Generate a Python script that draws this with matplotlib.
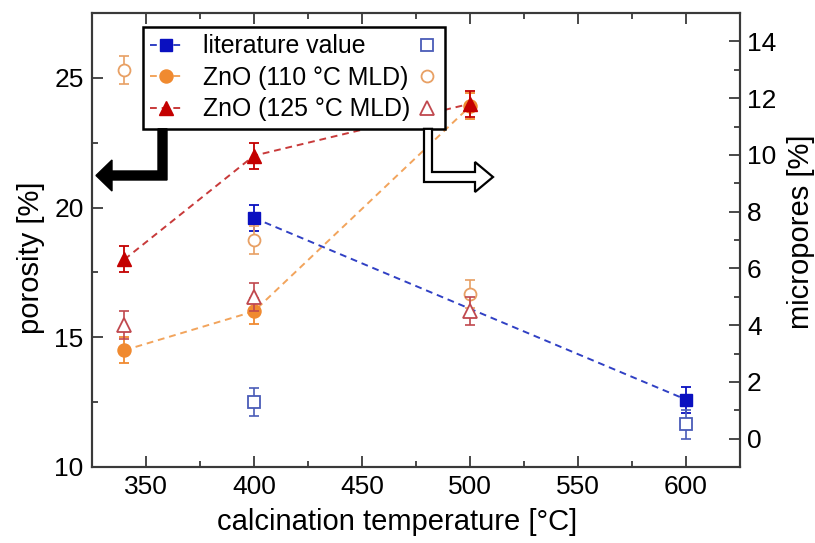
import matplotlib
matplotlib.use('Agg')
import matplotlib.pyplot as plt
from matplotlib.lines import Line2D
from matplotlib.patches import Polygon, Rectangle
from matplotlib.ticker import MultipleLocator

plt.rcParams['font.family'] = ['Liberation Sans', 'DejaVu Sans']

# ---------------- data ----------------
temps_lit = [400, 600]
poro_lit = [19.6, 12.6]
micro_lit = [1.3, 0.5]

temps_zno = [340, 400, 500]
poro_110 = [14.5, 16.0, 23.9]
micro_110 = [13.0, 7.0, 5.1]
poro_125 = [18.0, 22.0, 24.0]
micro_125 = [4.0, 5.0, 4.5]

err_poro = 0.5
err_micro = 0.5

labels = ['literature value', 'ZnO (110 °C MLD)', 'ZnO (125 °C MLD)']
x_ticks = [350, 400, 450, 500, 550, 600]
yl_ticks = [10, 15, 20, 25]
yr_ticks = [0, 2, 4, 6, 8, 10, 12, 14]

# ---------------- styles ----------------
fill_c = ['#0a10c0', '#f08a30', '#c40000']
line_c = ['#3040c4', '#f2a45c', '#c83a3a']
open_c = ['#4a5cb8', '#e8a064', '#c0484e']
markers = ['s', 'o', '^']
ms_fill = [8.6, 9.4, 10.0]
ms_open = [8.0, 8.6, 9.4]
dash = (3.5, 2.5)

W, H = 815, 543
fig = plt.figure(figsize=(W / 100, H / 100), dpi=100)
ax = fig.add_axes([92 / W, 1 - 467 / H, 648 / W, 454 / H])
ax2 = ax.twinx()

series_fill = [(temps_lit, poro_lit), (temps_zno, poro_110), (temps_zno, poro_125)]
series_open = [(temps_lit, micro_lit), (temps_zno, micro_110), (temps_zno, micro_125)]
zs = [3, 2, 4]

for i, (xs, ys) in enumerate(series_fill):
    ax.errorbar(xs, ys, yerr=err_poro, fmt='none', ecolor=fill_c[i], elinewidth=1.3,
                capsize=3.6, capthick=1.3, zorder=zs[i])
    ax.plot(xs, ys, ls=(0, dash), color=line_c[i], lw=1.4, zorder=zs[i])
    ax.plot(xs, ys, ls='none', marker=markers[i], ms=ms_fill[i], mfc=fill_c[i],
            mec=fill_c[i], zorder=zs[i] + 0.5)

for i, (xs, ys) in enumerate(series_open):
    ax2.errorbar(xs, ys, yerr=err_micro, fmt='none', ecolor=open_c[i], elinewidth=1.2,
                 capsize=3.6, capthick=1.2, zorder=2 + i)
    ax2.plot(xs, ys, ls='none', marker=markers[i], ms=ms_open[i], mfc='white',
             mec=open_c[i], mew=1.3, zorder=2.5 + i)

ax.set_xlim(325, 625)
ax.set_ylim(10, 27.5)
ax2.set_ylim(-1, 15)
ax.set_xticks(x_ticks)
ax.set_yticks(yl_ticks)
ax2.set_yticks(yr_ticks)
ax.xaxis.set_minor_locator(MultipleLocator(25))
ax.yaxis.set_minor_locator(MultipleLocator(2.5))
ax2.yaxis.set_minor_locator(MultipleLocator(1))

spc = '#3a3a3a'
for a in (ax, ax2):
    for s in a.spines.values():
        s.set_color(spc)
        s.set_linewidth(1.5)
ax.tick_params(which='both', direction='in', top=True, right=False, color=spc, width=1.3)
ax.tick_params(which='major', length=8, labelsize=19, pad=6)
ax.tick_params(which='minor', length=4)
ax2.tick_params(which='both', direction='in', color=spc, width=1.3)
ax2.tick_params(which='major', length=8, labelsize=19, pad=5)
ax2.tick_params(which='minor', length=4)

ax.set_xlabel('calcination temperature [°C]', fontsize=21, ha='center', va='center')
ax.xaxis.set_label_coords(0.471, (467 - 522) / 454)
ax.set_ylabel('porosity [%]', fontsize=21, ha='center', va='center')
ax.yaxis.set_label_coords((31 - 92) / 648, (467 - 258) / 454)
ax2.set_ylabel('micropores [%]', fontsize=21, ha='center', va='center')
ax2.yaxis.set_label_coords((801 - 92) / 648, (467 - 232) / 454)

# ---------------- legend ----------------
handles = [Line2D([], [], ls=(0, dash), lw=1.4, color=line_c[i], marker=markers[i],
                  ms=ms_fill[i], mfc=fill_c[i], mec=fill_c[i]) for i in range(3)]
leg = ax2.legend(handles=handles, labels=labels, loc='upper left',
                 bbox_to_anchor=((143 - 92) / 648, (467 - 27) / 454), borderaxespad=0,
                 frameon=False, fontsize=17.9, handlelength=1.25, handletextpad=0.85,
                 borderpad=0.3, labelspacing=0.3)
leg.set_zorder(10)

fig.canvas.draw()
r = fig.canvas.get_renderer()

lbb = leg.get_window_extent(r)
texts = leg.get_texts()
x_text_end = max(t.get_window_extent(r).x1 for t in texts)
mx = x_text_end + 17
lh = leg.legend_handles
for i, h in enumerate(lh):
    xy = h.get_transform().transform(h.get_xydata())
    ymk = xy[:, 1].mean()
    m = Line2D([mx / W], [ymk / H], transform=fig.transFigure, ls='none',
               marker=markers[i], ms=ms_open[i], mfc='white', mec=open_c[i], mew=1.3,
               zorder=11, clip_on=False)
    ax2.add_artist(m)

fx0, fy0, fx1, fy1 = lbb.x0, lbb.y0, mx + 18, lbb.y1
frame = Rectangle((fx0 / W, fy0 / H), (fx1 - fx0) / W, (fy1 - fy0) / H,
                  transform=fig.transFigure, facecolor='white', edgecolor='black',
                  lw=1.8, zorder=9, clip_on=False)
ax2.add_artist(frame)

# arrows (pixel coords, top-left origin), starting at legend bottom
yb = H - fy0


def poly(pts, **kw):
    p = Polygon([(x / W, 1 - y / H) for x, y in pts], closed=True,
                transform=fig.transFigure, clip_on=False, **kw)
    ax2.add_artist(p)


poly([(158, yb), (167, yb), (167, 180), (112, 180), (112, 191), (96, 175.5),
      (112, 160), (112, 171), (158, 171)], facecolor='black', edgecolor='black',
     lw=1.0, zorder=12)
poly([(424, yb), (432, yb), (432, 172), (475, 172), (475, 162), (493, 177),
      (475, 192), (475, 182), (424, 182)], facecolor='white', edgecolor='black',
     lw=1.6, zorder=12)

fig.savefig('out.png', dpi=100)
